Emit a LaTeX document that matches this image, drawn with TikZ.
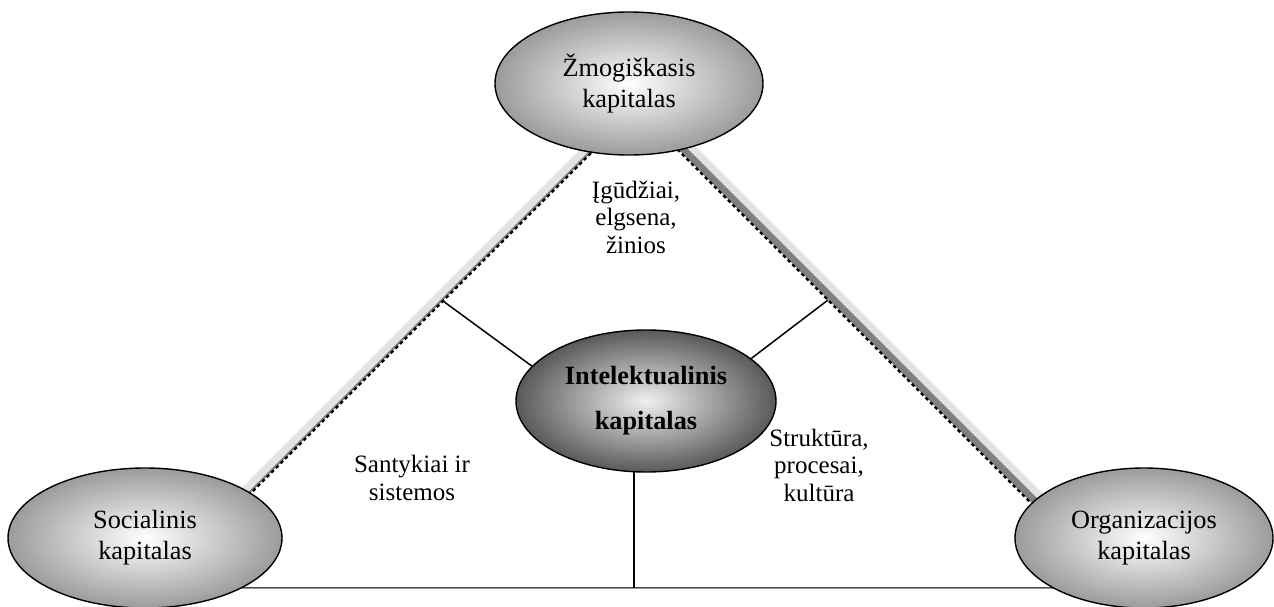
\documentclass[tikz,border=0pt]{standalone}
\usepackage{fontspec}
\setmainfont{Liberation Serif}
\usetikzlibrary{shapes.geometric,backgrounds}

\begin{document}
\begin{tikzpicture}[x=1pt,y=-1pt,
  hub/.style={ellipse, draw=black, line width=1.4pt, shade,
    inner color=white, outer color=gray!78, inner sep=0pt,
    align=center, font=\fontsize{26.3}{31}\selectfont},
  core/.style={inner color=white!94!black, outer color=gray!70!black,
    font=\fontsize{26.3}{45}\selectfont\bfseries},
  note/.style={align=center, inner sep=0pt,
    font=\fontsize{25}{27.5}\selectfont},
  lightband/.style={gray!22, line width=7.5pt},
  darkband/.style={gray, line width=7pt},
  edgedash/.style={black, line width=2.4pt, dash pattern=on 3.5pt off 3pt},
  spoke/.style={black, line width=1.5pt},
]
\useasboundingbox (0,0) rectangle (1274,607);

% the four capitals
\node[hub, minimum width=268, minimum height=143] (zmo) at (629,83.5) {Žmogiškasis\\kapitalas};
\node[hub, minimum width=274, minimum height=140] (soc) at (145,538) {Socialinis\\kapitalas};
\node[hub, minimum width=258, minimum height=140] (org) at (1144,538) {Organizacijos\\kapitalas};
\node[hub, core, minimum width=260, minimum height=142] (intel) at (646,401) {Intelektualinis\\kapitalas};

% labels of the three fields
\node[note] (skills) at (636,217) {Įgūdžiai,\\elgsena,\\žinios};
\node[note] (rel) at (412,478) {Santykiai ir\\sistemos};
\node[note] (struct) at (819,465) {Struktūra,\\procesai,\\kultūra};

% corners of the triangle and meeting points of the spokes
\coordinate (apex) at (636,108);
\coordinate (lfoot) at (207,537);
\coordinate (rfoot) at (1065,537);
\coordinate (lspoke) at (443,301);
\coordinate (rspoke) at (828,300);
\coordinate (base) at (634,588);

\begin{scope}[on background layer]
  % left side: light band with a dashed inner edge
  \draw[lightband] ([shift={(-4.4,-4.4)}]lfoot) -- ([shift={(-4.4,-4.4)}]apex);
  \draw[darkband, line width=2.2pt] ([shift={(-1.1,-1.1)}]lfoot) -- ([shift={(-1.1,-1.1)}]apex);
  \draw[edgedash] (lfoot) -- (apex);
  % right side: dark and light bands with a dashed inner edge
  \draw[lightband] ([shift={(8,-8)}]apex) -- ([shift={(8,-8)}]rfoot);
  \draw[darkband] ([shift={(2.9,-2.9)}]apex) -- ([shift={(2.9,-2.9)}]rfoot);
  \draw[edgedash] (apex) -- (rfoot);
  % base line
  \draw[gray!85, line width=2.6pt] (soc.center |- base) -- (org.center |- base);
  \draw[black!70, line width=1.1pt] ([yshift=0.7pt]soc.center |- base) -- ([yshift=0.7pt]org.center |- base);
  % vertical spoke
  \draw[black, line width=2pt] (base |- intel.center) -- (base);
\end{scope}

% spokes from the sides to the centre
\draw[spoke] (lspoke) -- (intel.163);
\draw[spoke] (rspoke) -- (intel.22);
\end{tikzpicture}
\end{document}
